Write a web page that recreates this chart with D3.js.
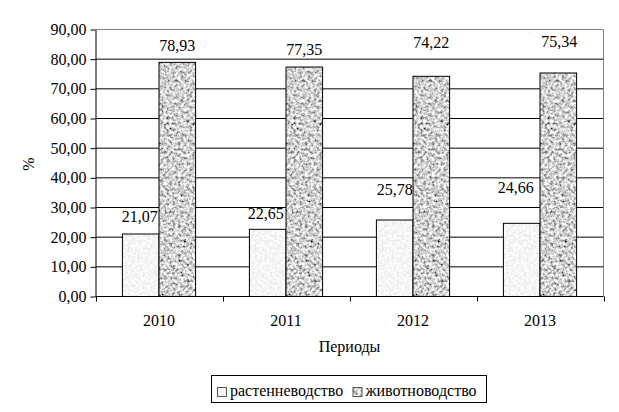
<!DOCTYPE html>
<html>
<head>
<meta charset="utf-8">
<script src="https://cdn.jsdelivr.net/npm/d3@7"></script>
<style>
  body { margin: 0; background: #fff; }
</style>
</head>
<body>
<script>
(function (d3) {
  "use strict";

  /***** Data *****/
  var years = ["2010", "2011", "2012", "2013"];
  var seriesNames = ["растенневодство", "животноводство"];
  var plantValues = [21.07, 22.65, 25.78, 24.66];
  var animalValues = [78.93, 77.35, 74.22, 75.34];
  var yTicks = [0, 10, 20, 30, 40, 50, 60, 70, 80, 90];
  var yTitle = "%";
  var xTitle = "Периоды";

  // manual label nudges (dx, dy from bar top), like the hand-placed labels in the original
  var plantLabelShift = [[-1, -12], [-2, -10], [0, -25], [-6, -30]];
  var animalLabelShift = [[0, -11], [0, -12], [0, -28], [1, -26]];

  /***** Configuration *****/
  var width = 619, height = 412;
  var plot = { left: 95.5, right: 603.5, top: 29.5, bottom: 296.5 };
  var fontFamily = "'Liberation Serif'";
  var fmt = d3.formatLocale({ decimal: ",", thousands: " ", grouping: [3], currency: ["", ""] }).format(".2f");

  var svg = d3.select("body").append("svg")
      .attr("width", width)
      .attr("height", height)
      .style("font-family", fontFamily);

  function txt(sel) {
    return sel.style("font-family", fontFamily).style("font-size", "16px").attr("fill", "#000");
  }

  /***** Textures *****/
  var defs = svg.append("defs");
  function granite(id, seed, freq, k, mean) {
    var f = defs.append("filter").attr("id", id)
        .attr("x", 0).attr("y", 0).attr("width", 1).attr("height", 1);
    f.append("feTurbulence").attr("type", "fractalNoise")
        .attr("baseFrequency", freq).attr("numOctaves", 3).attr("seed", seed).attr("result", "n");
    var c = mean - 0.5 * k;
    f.append("feColorMatrix").attr("in", "n").attr("type", "matrix")
        .attr("values", [k, 0, 0, 0, c, k, 0, 0, 0, c, k, 0, 0, 0, c, 0, 0, 0, 0, 1].join(" "))
        .attr("result", "g");
    f.append("feComposite").attr("in", "g").attr("in2", "SourceGraphic").attr("operator", "in");
  }
  granite("texPlant", 3, 0.4, 0.4, 0.92);
  granite("texAnimal", 7, 0.35, 1.8, 0.64);

  /***** Scales *****/
  var xScale = d3.scaleBand().domain(years).range([plot.left, plot.right]);
  var xInner = d3.scaleBand().domain(seriesNames)
      .range([26.9, xScale.bandwidth() - 26.9]);
  var yScale = d3.scaleLinear().domain([0, 90]).range([plot.bottom, plot.top]);

  /***** Grid and frame *****/
  svg.append("g").selectAll("line")
      .data(yTicks.filter(function (t) { return t > 0 && t < 90; }))
      .enter().append("line")
      .attr("x1", plot.left).attr("x2", plot.right)
      .attr("y1", function (d) { return yScale(d); })
      .attr("y2", function (d) { return yScale(d); })
      .attr("stroke", "#000").attr("stroke-width", 1);

  svg.append("path")
      .attr("d", "M" + plot.left + "," + yScale(90) + "H" + plot.right + "V" + plot.bottom)
      .attr("fill", "none").attr("stroke", "#808080");

  /***** Bars *****/
  var rows = years.map(function (y, i) {
    return { year: y, i: i, values: [plantValues[i], animalValues[i]] };
  });

  var groups = svg.append("g").selectAll("g")
      .data(rows).enter().append("g")
      .attr("transform", function (d) { return "translate(" + xScale(d.year) + ",0)"; });

  var bars = groups.selectAll("g.bar")
      .data(function (d) {
        return seriesNames.map(function (s, j) {
          return { series: s, j: j, value: d.values[j], i: d.i };
        });
      })
      .enter().append("g").attr("class", "bar");

  bars.append("rect")
      .attr("x", function (d) { return xInner(d.series); })
      .attr("y", function (d) { return yScale(d.value); })
      .attr("width", xInner.bandwidth())
      .attr("height", function (d) { return yScale(0) - yScale(d.value); })
      .attr("fill", "#fff")
      .attr("filter", function (d) { return d.j === 0 ? "url(#texPlant)" : "url(#texAnimal)"; });

  bars.append("rect")
      .attr("x", function (d) { return xInner(d.series); })
      .attr("y", function (d) { return yScale(d.value); })
      .attr("width", xInner.bandwidth())
      .attr("height", function (d) { return yScale(0) - yScale(d.value); })
      .attr("fill", "none")
      .attr("stroke", "#000").attr("stroke-width", 1);

  bars.append("text")
      .attr("x", function (d) {
        var s = d.j === 0 ? plantLabelShift[d.i] : animalLabelShift[d.i];
        return xInner(d.series) + xInner.bandwidth() / 2 + s[0];
      })
      .attr("y", function (d) {
        var s = d.j === 0 ? plantLabelShift[d.i] : animalLabelShift[d.i];
        return yScale(d.value) + s[1];
      })
      .attr("text-anchor", "middle")
      .call(txt)
      .text(function (d) { return fmt(d.value); });

  /***** Axes *****/
  var yAxis = d3.axisLeft(yScale).tickValues(yTicks).tickFormat(fmt)
      .tickSize(5).tickSizeOuter(0).tickPadding(4);
  var gy = svg.append("g").attr("transform", "translate(" + plot.left + ",0)").call(yAxis);
  gy.attr("font-family", null).attr("font-size", null);
  gy.selectAll("path, line").attr("stroke", "#000");
  gy.selectAll("text").call(txt);

  svg.append("line")
      .attr("x1", plot.left).attr("x2", plot.right)
      .attr("y1", plot.bottom).attr("y2", plot.bottom)
      .attr("stroke", "#000");

  var bounds = years.map(function (y) { return xScale(y); }).concat([xScale.range()[1]]);
  svg.append("g").selectAll("line").data(bounds).enter().append("line")
      .attr("x1", function (d) { return Math.round(d) + 0.5; })
      .attr("x2", function (d) { return Math.round(d) + 0.5; })
      .attr("y1", plot.bottom).attr("y2", plot.bottom + 5)
      .attr("stroke", "#000");

  svg.append("g").selectAll("text").data(years).enter().append("text")
      .attr("x", function (d) { return xScale(d) + xScale.bandwidth() / 2; })
      .attr("y", 326)
      .attr("text-anchor", "middle")
      .call(txt)
      .text(function (d) { return d; });

  svg.append("text")
      .attr("x", (plot.left + plot.right) / 2)
      .attr("y", 352)
      .attr("text-anchor", "middle")
      .call(txt)
      .text(xTitle);

  svg.append("text")
      .attr("transform", "translate(34,164) rotate(-90)")
      .attr("text-anchor", "middle")
      .call(txt)
      .text(yTitle);

  /***** Legend *****/
  var legend = svg.append("g");
  legend.append("rect")
      .attr("x", 211.5).attr("y", 375.5).attr("width", 275).attr("height", 27)
      .attr("fill", "#fff").attr("stroke", "#000");

  var legendX = [217, 352.5];
  var items = legend.selectAll("g.item").data(seriesNames).enter().append("g")
      .attr("class", "item")
      .attr("transform", function (d, i) { return "translate(" + legendX[i] + ",0)"; });
  items.append("rect")
      .attr("x", 0.5).attr("y", 387.5).attr("width", 9).attr("height", 9)
      .attr("fill", "#fff")
      .attr("filter", function (d, i) { return i === 0 ? "url(#texPlant)" : "url(#texAnimal)"; });
  items.append("rect")
      .attr("x", 0.5).attr("y", 387.5).attr("width", 9).attr("height", 9)
      .attr("fill", "none").attr("stroke", "#555");
  items.append("text")
      .attr("x", 13).attr("y", 396)
      .call(txt)
      .text(function (d) { return d; });

})(d3);
</script>
</body>
</html>
